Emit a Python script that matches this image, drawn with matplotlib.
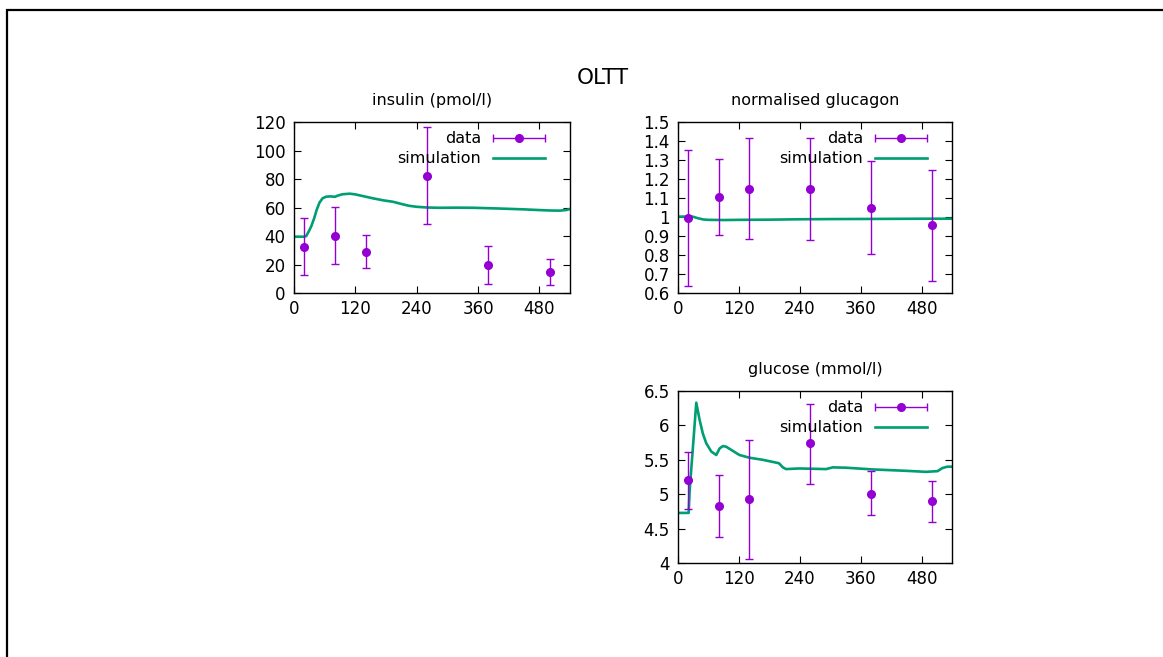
import numpy as np
import matplotlib
matplotlib.use("Agg")
import matplotlib.pyplot as plt
import matplotlib.ticker as mplticker
from matplotlib.legend_handler import HandlerErrorbar
from matplotlib.lines import Line2D

#
# Data
#

data_time = [20, 80, 140, 260, 380, 500]

insulin_mean = [32.6, 40.1, 29.1, 82.3, 19.3, 14.9]
insulin_low = [12.4, 20.3, 17.7, 48.3, 6.1, 5.6]
insulin_high = [52.9, 60.1, 40.6, 116.5, 32.9, 24.0]

glucagon_mean = [0.996, 1.105, 1.150, 1.147, 1.049, 0.956]
glucagon_low = [0.638, 0.906, 0.883, 0.879, 0.806, 0.665]
glucagon_high = [1.355, 1.306, 1.418, 1.416, 1.294, 1.250]

glucose_mean = [5.20, 4.835, 4.927, 5.738, 5.010, 4.898]
glucose_low = [4.786, 4.383, 4.063, 5.155, 4.694, 4.602]
glucose_high = [5.62, 5.282, 5.79, 6.316, 5.33, 5.194]

insulin_sim_time = [0, 20, 24, 30, 34, 40, 44, 50, 56, 63, 72, 80, 86, 95, 109, 120, 130, 155, 175,
                    194, 210, 225, 240, 260, 285, 320, 351, 400, 449, 480, 501, 520, 534, 540]
insulin_sim = [39.5, 39.5, 40.0, 44.0, 47.0, 53.0, 58.0, 63.5, 66.5, 67.6, 67.8, 67.5, 68.4, 69.3, 69.7,
               69.2, 68.4, 66.4, 65.0, 64.0, 62.5, 61.2, 60.5, 60.0, 59.8, 59.9, 59.8, 59.3, 58.7, 58.2,
               57.9, 57.8, 58.3, 59.0]

glucagon_sim_time = [0, 15, 25, 30, 40, 50, 60, 90, 120, 180, 240, 300, 400, 480, 540]
glucagon_sim = [1.002, 1.002, 1.004, 1.001, 0.993, 0.987, 0.985, 0.984, 0.985, 0.986, 0.988, 0.989,
                0.990, 0.991, 0.991]

glucose_sim_time = [0, 21, 23, 29.5, 36, 42.6, 49, 55.7, 65.6, 75.4, 82, 88.5, 95, 108, 121, 141, 167,
                    199, 206.6, 213, 239, 292, 305, 331, 383.6, 449, 488.5, 511.5, 521, 531, 540]
glucose_sim = [4.728, 4.728, 5.06, 5.69, 6.33, 6.08, 5.88, 5.74, 5.62, 5.57, 5.665, 5.70, 5.69, 5.63,
               5.57, 5.53, 5.50, 5.45, 5.39, 5.365, 5.374, 5.365, 5.39, 5.385, 5.36, 5.34, 5.325,
               5.335, 5.38, 5.40, 5.40]

x_ticks = [0, 120, 240, 360, 480]

#
# Style
#

DATA_COLOR = "#9400d3"
SIM_COLOR = "#009e73"
FONT_SIZE = 11.5
TICK_SIZE = 12

plt.rcParams["font.family"] = ["DejaVu Sans"]
plt.rcParams["font.size"] = FONT_SIZE

W, H = 1163, 657


def pixel_box(left, top, right, bottom):
    # convert a pixel box of the reference into figure fractions
    return [left / W, 1 - bottom / H, (right - left) / W, (bottom - top) / H]


def draw_panel(axes, title, mean, low, high, sim_time, sim, y_min, y_max, y_step):
    mean = np.array(mean)
    yerr = [mean - np.array(low), np.array(high) - mean]

    axes.errorbar(data_time, mean, yerr=yerr, fmt="o", color=DATA_COLOR, markersize=5.5,
                  elinewidth=1, capsize=3, capthick=1, zorder=3)
    axes.plot(sim_time, sim, color=SIM_COLOR, linewidth=1.9, zorder=2)

    # proxy for the gnuplot style key sample (horizontal bar with caps)
    proxy = axes.errorbar([np.nan], [np.nan], xerr=[1], fmt="o", color=DATA_COLOR, markersize=5.5,
                          elinewidth=1, capsize=3, capthick=1)
    sim_proxy = Line2D([], [], color=SIM_COLOR, linewidth=1.9)

    handle_length = 3.25
    axes.legend([proxy, sim_proxy], ["data", "simulation"], loc="upper right",
                bbox_to_anchor=(0.909, 0.945), frameon=False, markerfirst=False,
                handlelength=handle_length, handletextpad=0.75, labelspacing=0.3,
                borderpad=0, borderaxespad=0, numpoints=1, fontsize=FONT_SIZE,
                handler_map={proxy: HandlerErrorbar(xerr_size=handle_length / 2, numpoints=1)})

    axes.set_xlim(0, 540)
    axes.set_ylim(y_min, y_max)
    axes.set_xticks(x_ticks)
    axes.set_yticks(np.arange(y_min, y_max + y_step / 2, y_step))
    axes.yaxis.set_major_formatter(mplticker.FuncFormatter(lambda v, _: f"{round(v, 6):g}"))
    axes.tick_params(direction="in", top=True, right=True, length=5, width=0.8, labelsize=TICK_SIZE)
    axes.tick_params(axis="y", pad=6)
    axes.tick_params(axis="x", pad=5)
    for spine in axes.spines.values():
        spine.set_linewidth(1)
    axes.set_title(title, fontsize=FONT_SIZE, pad=12)


#
# Figure
#

fig = plt.figure(figsize=(W / 100, H / 100), dpi=100)

ax_insulin = fig.add_axes(pixel_box(294, 122, 570, 293))
ax_glucagon = fig.add_axes(pixel_box(678, 122, 952, 293))
ax_glucose = fig.add_axes(pixel_box(678, 391, 952, 563))

draw_panel(ax_insulin, "insulin (pmol/l)", insulin_mean, insulin_low, insulin_high,
           insulin_sim_time, insulin_sim, 0, 120, 20)
draw_panel(ax_glucagon, "normalised glucagon", glucagon_mean, glucagon_low, glucagon_high,
           glucagon_sim_time, glucagon_sim, 0.6, 1.5, 0.1)
draw_panel(ax_glucose, "glucose (mmol/l)", glucose_mean, glucose_low, glucose_high,
           glucose_sim_time, glucose_sim, 4, 6.5, 0.5)

fig.text(603 / W, 1 - 78 / H, "OLTT", ha="center", va="center", fontsize=15.5)

# partial frame around the canvas (top and left edges only)
fig.add_artist(Line2D([7 / W, 7 / W, 1], [0, 1 - 10 / H, 1 - 10 / H], color="black",
                      linewidth=1.6, transform=fig.transFigure, solid_joinstyle="miter"))

fig.savefig("out.png", dpi=100)
